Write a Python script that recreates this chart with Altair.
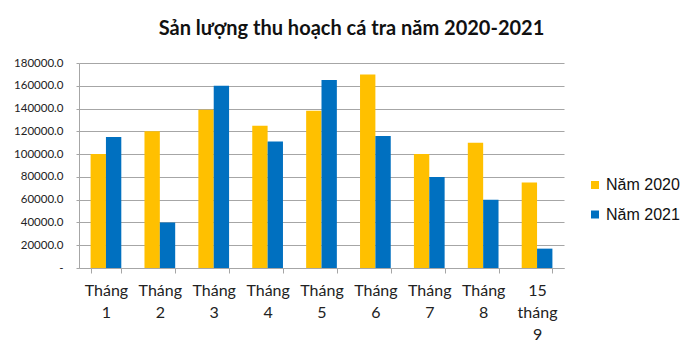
import altair as alt
import pandas as pd

categories = ["Tháng 1", "Tháng 2", "Tháng 3", "Tháng 4", "Tháng 5",
              "Tháng 6", "Tháng 7", "Tháng 8", "15 tháng 9"]
series = ["Năm 2020", "Năm 2021"]
values_2020 = [100000, 120000, 139000, 125000, 138000, 170000, 100000, 110000, 75000]
values_2021 = [115000, 40000, 160000, 111000, 165000, 116000, 80000, 60000, 17000]
y_ticks = [0, 20000, 40000, 60000, 80000, 100000, 120000, 140000, 160000, 180000]
colors = ["#FFC000", "#0070C0"]

rows = []
for c, a, b in zip(categories, values_2020, values_2021):
    rows.append({"cat": c, "series": series[0], "value": a})
    rows.append({"cat": c, "series": series[1], "value": b})
df = pd.DataFrame(rows)

chart = alt.Chart(df).mark_bar(stroke=None).encode(
    x=alt.X("cat:N", sort=categories, title=None,
            scale=alt.Scale(paddingInner=0.43, paddingOuter=0.215),
            axis=alt.Axis(labelAngle=0, tickBand="extent", tickSize=5,
                          labelExpr="split(datum.label, ' ')",
                          labelFont="Lato", labelFontSize=16, labelColor="#222222",
                          labelLineHeight=22, labelPadding=9,
                          domainColor="#a6a6a6", tickColor="#a6a6a6", grid=False)),
    xOffset=alt.XOffset("series:N", sort=series),
    y=alt.Y("value:Q", title=None,
            scale=alt.Scale(domain=[0, 180000], nice=False),
            axis=alt.Axis(values=y_ticks,
                          labelExpr="datum.value == 0 ? '-' : format(datum.value, '.1f')",
                          labelFont="Lato", labelFontSize=11.5, labelColor="#222222",
                          tickSize=3, labelPadding=13, domainColor="#a6a6a6",
                          tickColor="#a6a6a6", gridColor="#a6a6a6", gridWidth=1.2)),
    color=alt.Color("series:N", sort=series,
                    scale=alt.Scale(domain=series, range=colors),
                    legend=alt.Legend(title=None, orient="none", legendX=508, legendY=114,
                                      symbolType="square", symbolSize=64,
                                      symbolStrokeWidth=0,
                                      labelFont="Liberation Sans", labelFontSize=16,
                                      labelColor="#111111", rowPadding=13.5, labelOffset=3)),
).properties(
    width=485, height=205,
    autosize=alt.AutoSizeParams(type="none"),
    padding={"left": 71, "top": 55, "right": 128, "bottom": 85},
    title=alt.TitleParams("Sản lượng thu hoạch cá tra năm 2020-2021",
                          font="Lato", fontSize=20, fontWeight="bold", color="#111111",
                          anchor="middle", frame="group", dx=30, offset=18),
).configure_view(stroke=None)

chart.save("out.html", embed_options={"renderer": "svg", "actions": False})
